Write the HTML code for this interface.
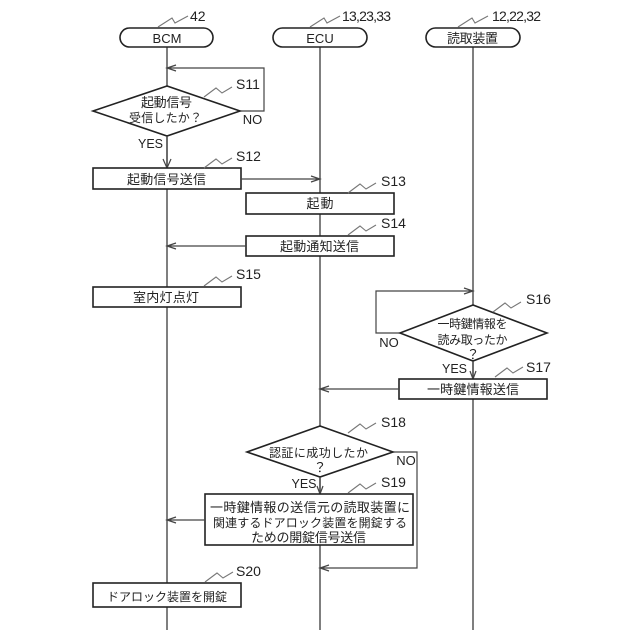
<!DOCTYPE html>
<html><head><meta charset="utf-8"><style>
html,body{margin:0;padding:0;background:#fff}
svg{display:block}
text{font-family:"Liberation Sans","Noto Sans CJK JP",sans-serif;font-size:13px;fill:#222;text-anchor:middle}
.l{text-anchor:start;font-size:14px}
.e{font-size:13px}
.y{font-size:12.5px}
.t{font-size:12px}
.s{fill:#fff;stroke:#222;stroke-width:1.6}
.c{fill:none;stroke:#444;stroke-width:1.2}
.v{fill:none;stroke:#555;stroke-width:1.5}
.w{fill:none;stroke:#777;stroke-width:1.1}
</style></head><body>
<svg width="640" height="640" viewBox="0 0 640 640" xmlns="http://www.w3.org/2000/svg">
<rect width="640" height="640" fill="#fff"/>
<path class="v" d="M167 47V630M320 47V630M473 47V630"/>
<rect class="s" x="120" y="28" width="93" height="19" rx="9.5"/>
<rect class="s" x="273" y="28" width="94" height="19" rx="9.5"/>
<rect class="s" x="426" y="28" width="94" height="19" rx="9.5"/>
<text x="167" y="43">BCM</text><text x="320" y="43">ECU</text><text x="472.5" y="43" textLength="51">読取装置</text>
<text class="l" x="190" y="21">42</text><text class="l" x="342" y="21" textLength="49">13,23,33</text><text class="l" x="492" y="21" textLength="49">12,22,32</text>
<path class="w" d="M158 27l14-9 3 5 13-7M310 27l14-9 3 5 13-7M458 27l14-9 3 5 13-7"/>

<path class="c" d="M240 111H264V68H167M176 65l-9 3 9 3"/>
<path class="s" d="M167 86L93 111L167 136L240 111Z"/>
<text x="166.5" y="107" textLength="51">起動信号</text><text class="t" x="165.5" y="122" textLength="73">受信したか？</text>
<text class="e" x="252.5" y="124">NO</text><text class="y" x="150.5" y="148">YES</text>
<path class="c" d="M167 136V168M163 159l4 9 4-9"/>
<text class="l" x="236" y="89">S11</text>
<path class="w" d="M204 97l12-9 6 5 10-6"/>

<rect class="s" x="93" y="168" width="148" height="21"/>
<text x="166.5" y="184" textLength="79">起動信号送信</text>
<text class="l" x="236" y="161">S12</text>
<path class="w" d="M204 168l12-9 6 5 10-6"/>
<path class="c" d="M241 179H320M311 176l9 3-9 3"/>

<rect class="s" x="246" y="193" width="148" height="21"/>
<text x="320" y="208" textLength="27">起動</text>
<text class="l" x="381" y="186">S13</text>
<path class="w" d="M348 193l12-9 6 5 10-6"/>

<rect class="s" x="246" y="236" width="148" height="20"/>
<text x="319.5" y="251" textLength="79">起動通知送信</text>
<text class="l" x="381" y="228">S14</text>
<path class="w" d="M348 235l12-9 6 5 10-6"/>
<path class="c" d="M246 246H167M176 243l-9 3 9 3"/>

<rect class="s" x="93" y="287" width="148" height="20"/>
<text x="166" y="302" textLength="66">室内灯点灯</text>
<text class="l" x="236" y="279">S15</text>
<path class="w" d="M204 286l12-9 6 5 10-6"/>

<path class="c" d="M400 333H376V291H473M464 288l9 3-9 3"/>
<path class="s" d="M473 305L400 333L473 361L547 333Z"/>
<text class="t" x="472.5" y="328" textLength="70">一時鍵情報を</text><text class="t" x="472.5" y="344" textLength="70">読み取ったか</text><text x="473" y="359">？</text>
<text class="e" x="389" y="347">NO</text><text class="y" x="454.5" y="373">YES</text>
<path class="c" d="M473 361V379M470 371l3 8 3-8"/>
<text class="l" x="526" y="304">S16</text>
<path class="w" d="M493 312l12-9 6 5 10-6"/>

<rect class="s" x="399" y="379" width="148" height="20"/>
<text x="473" y="394" textLength="92">一時鍵情報送信</text>
<text class="l" x="526" y="372">S17</text>
<path class="w" d="M495 377l12-9 6 5 10-6"/>
<path class="c" d="M399 389H320M329 386l-9 3 9 3"/>

<path class="c" d="M393 452H417V568H320M329 565l-9 3 9 3"/>
<path class="s" d="M320 426L247 452L320 477L393 452Z"/>
<text class="t" x="318.5" y="457" textLength="99">認証に成功したか</text><text x="320" y="472">？</text>
<text class="e" x="406" y="465">NO</text><text class="y" x="304" y="488">YES</text>
<path class="c" d="M320 477V494M317 486l3 8 3-8"/>
<text class="l" x="381" y="427">S18</text>
<path class="w" d="M348 433l12-9 6 5 10-6"/>

<rect class="s" x="205" y="494" width="208" height="51"/>
<text x="310" y="512" textLength="200">一時鍵情報の送信元の読取装置に</text>
<text class="t" x="310" y="527" textLength="194">関連するドアロック装置を開錠する</text>
<text x="308.5" y="542" textLength="115">ための開錠信号送信</text>
<text class="l" x="381" y="487">S19</text>
<path class="w" d="M348 493l12-9 6 5 10-6"/>
<path class="c" d="M205 520H167M176 517l-9 3 9 3"/>

<rect class="s" x="93" y="583" width="148" height="24"/>
<text class="t" x="167" y="601" textLength="120">ドアロック装置を開錠</text>
<text class="l" x="236" y="576">S20</text>
<path class="w" d="M205 582l12-9 6 5 10-6"/>
</svg>
</body></html>
